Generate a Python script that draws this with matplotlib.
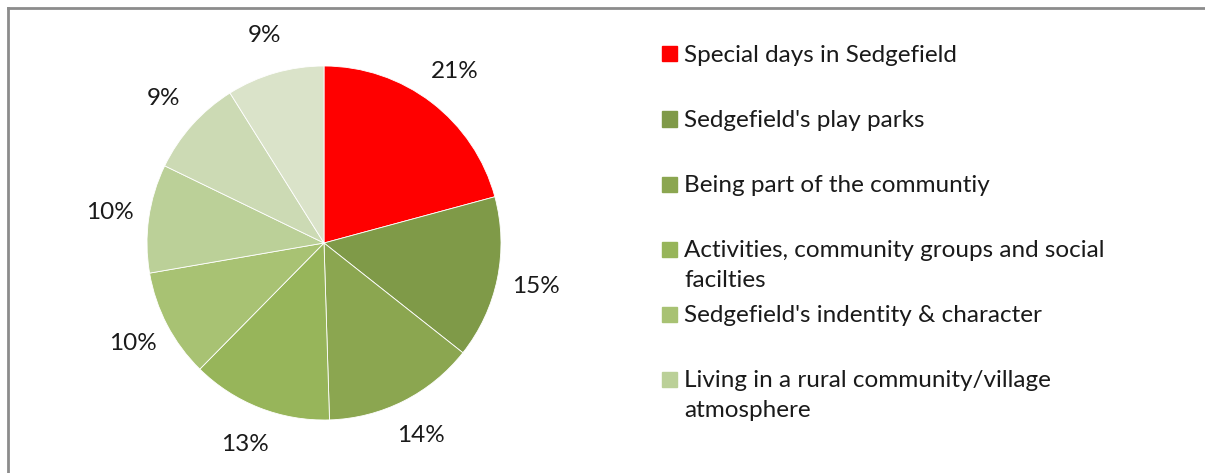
import matplotlib.pyplot as plt
from matplotlib.patches import Rectangle

# ------ data -----
values = [21, 15, 14, 13, 10, 10, 9, 9]
pct_labels = ['21%', '15%', '14%', '13%', '10%', '10%', '9%', '9%']
legend_labels = [
    'Special days in Sedgefield',
    "Sedgefield's play parks",
    'Being part of the communtiy',
    'Activities, community groups and social\nfacilties',
    "Sedgefield's indentity & character",
    'Living in a rural community/village\natmosphere',
]
colors = ['#FF0000', '#7F9A48', '#8BA650', '#97B55A', '#A8C273',
          '#BBD098', '#CCDAB4', '#DAE3C9']
# -----------------

plt.rcParams['font.family'] = ['Lato', 'DejaVu Sans']
FONT = 17.5

W, H = 1205, 473
fig = plt.figure(figsize=(W / 100, H / 100), dpi=100)

# outer frame (left and top edges only, rest is cut off)
fig.add_artist(plt.Line2D([8 / W, 8 / W], [0, 1 - 8 / H], color='#8C8C8C', lw=2))
fig.add_artist(plt.Line2D([8 / W, 1], [1 - 8 / H, 1 - 8 / H], color='#8C8C8C', lw=2))

cx, cy, r = 324, 243, 177
ax = fig.add_axes([(cx - r) / W, (H - cy - r) / H, 2 * r / W, 2 * r / H])
wedges, texts = ax.pie(values, labels=pct_labels, colors=colors, startangle=90,
                       counterclock=False, labeldistance=1.22,
                       wedgeprops=dict(edgecolor='white', linewidth=0.6),
                       textprops=dict(fontsize=FONT, color='#1a1a1a'))
for t in texts:
    t.set_ha('center')
    t.set_va('center')
ax.set_xlim(-1, 1)
ax.set_ylim(-1, 1)

# legend
for i, (lab, col) in enumerate(zip(legend_labels, colors)):
    y = 54 + 65 * i
    fig.add_artist(Rectangle((662 / W, 1 - (y + 7.5) / H), 15 / W, 15 / H,
                             transform=fig.transFigure, color=col))
    fig.text(684 / W, 1 - (y - 9) / H, lab, fontsize=FONT, va='top', ha='left',
             color='#1a1a1a', linespacing=1.55)

fig.savefig('out.png', dpi=100)
